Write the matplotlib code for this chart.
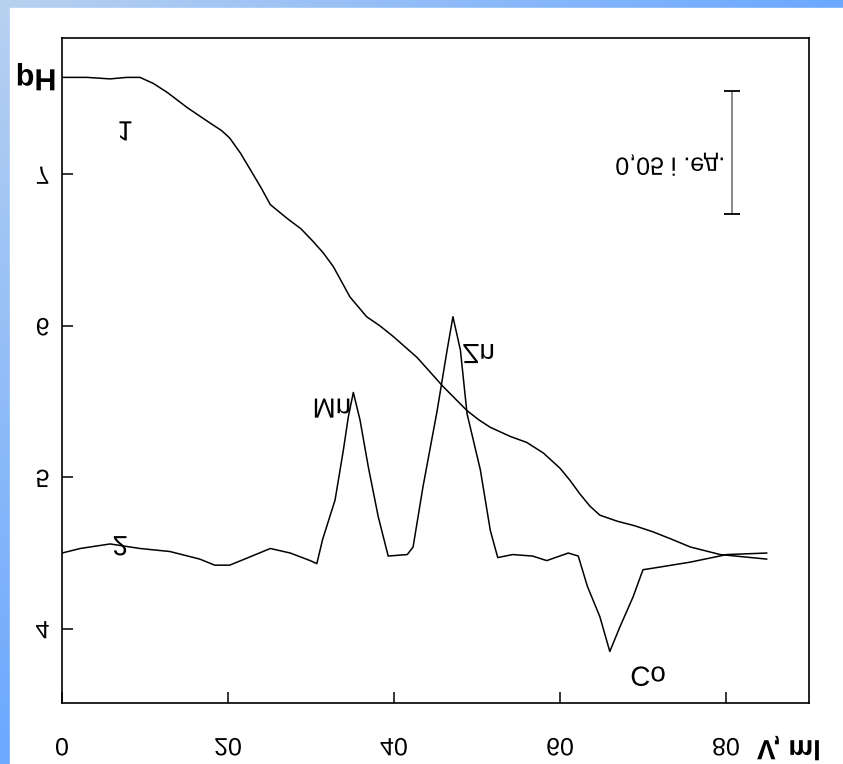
import numpy as np
import matplotlib
matplotlib.use("Agg")
import matplotlib.pyplot as plt
from matplotlib import patheffects
from matplotlib.patches import Rectangle
from matplotlib.transforms import Affine2D

plt.rcParams["font.family"] = ["Liberation Sans", "DejaVu Sans"]

# titration curve (1): volume, ml -> pH
v1 = [0.0, 3.0, 5.8, 7.8, 9.4, 11.0, 12.7, 15.1, 17.8, 19.2, 20.2, 21.5, 22.7, 24.0,
      25.1, 27.1, 28.8, 30.2, 31.5, 32.7, 33.7, 34.7, 36.7, 38.3, 39.9, 42.8, 45.9,
      48.8, 50.2, 51.6, 54.0, 56.0, 58.0, 60.0, 61.2, 62.4, 63.6, 64.8, 66.9, 69.0,
      71.2, 73.5, 75.7, 79.3, 84.9]
ph1 = [7.64, 7.64, 7.63, 7.64, 7.64, 7.60, 7.54, 7.44, 7.34, 7.29, 7.24, 7.14, 7.03,
       6.91, 6.80, 6.71, 6.64, 6.56, 6.48, 6.39, 6.29, 6.19, 6.06, 6.00, 5.93, 5.79,
       5.60, 5.44, 5.38, 5.33, 5.27, 5.23, 5.16, 5.06, 4.98, 4.89, 4.81, 4.75, 4.71,
       4.68, 4.64, 4.59, 4.54, 4.49, 4.46]

# differential curve (2), drawn on the same pH scale
v2 = [0.0, 2.2, 5.8, 9.4, 13.0, 16.6, 18.4, 20.2, 22.0, 25.1, 27.5, 29.9, 30.7,
      31.4, 32.9, 33.9, 34.5, 35.1, 35.9, 36.9, 38.1, 39.3, 41.6, 42.3, 43.5,
      45.2, 46.4, 47.1, 48.0, 48.8, 50.4, 51.6, 52.5, 54.3, 56.7, 58.4, 61.0,
      62.2, 63.3, 64.8, 66.0, 67.2, 68.8, 70.0, 71.2, 75.7, 80.1, 84.9]
ph2 = [4.50, 4.53, 4.56, 4.53, 4.51, 4.46, 4.42, 4.42, 4.46, 4.53, 4.50, 4.45, 4.43,
       4.59, 4.85, 5.18, 5.40, 5.56, 5.38, 5.07, 4.74, 4.48, 4.49, 4.54, 4.94,
       5.44, 5.84, 6.06, 5.84, 5.42, 5.05, 4.65, 4.47, 4.49, 4.48, 4.45, 4.50,
       4.48, 4.28, 4.08, 3.85, 4.01, 4.21, 4.39, 4.40, 4.44, 4.49, 4.50]

x_ticks = [0, 20, 40, 60, 80]
y_ticks = [4, 5, 6, 7]

# curve and peak labels
labels = ["1", "2", "Mn", "Zn", "Co"]
label_x = [7.6, 7.0, 32.5, 50.2, 70.6]
label_y = [7.27, 4.53, 5.44, 5.80, 3.67]

# scale bar for curve 2
bar_x = 80.7
bar_y = (6.74, 7.55)
bar_text = "0,05 і .ед."


class FlipText(patheffects.AbstractPathEffect):
    """Draw the glyph outlines mirrored top to bottom."""

    def draw_path(self, renderer, gc, tpath, affine, rgbFace=None):
        ext = tpath.get_extents()
        flip = Affine2D().scale(1, -1).translate(0, ext.y0 + ext.y1)
        renderer.draw_path(gc, tpath, flip + affine, rgbFace)


flip = [FlipText()]

W, H = 843, 764
fig = plt.figure(figsize=(W / 100, H / 100), dpi=100)

# blue frame along the top and left edges
bg = fig.add_axes([0, 0, 1, 1], zorder=-2)
gx, gy = np.meshgrid(np.linspace(0, 1, 200), np.linspace(0, 1, 200))
t = np.clip(gx + gy, 0, 1)[..., None]
c0 = np.array([0.72, 0.82, 0.94])
c1 = np.array([0.42, 0.66, 1.0])
grad = c0 * (1 - t) + c1 * t
bg.imshow(grad, extent=[0, 1, 0, 1], origin="upper", aspect="auto")
bg.add_patch(Rectangle((10 / W, 0), 1, 1 - 8 / H, color="white"))
bg.set_xlim(0, 1)
bg.set_ylim(0, 1)
bg.axis("off")

ax = fig.add_axes([62 / W, 1 - 703 / H, (809 - 62) / W, (703 - 38) / H])
ax.set_facecolor("none")
ax.plot(v1, ph1, color="black", lw=1.1)
ax.plot(v2, ph2, color="black", lw=1.1)

ax.set_xlim(0, 90)
ax.set_ylim(3.51, 7.90)
for s in ax.spines.values():
    s.set_linewidth(1.2)

ax.set_xticks(x_ticks, [str(v) for v in x_ticks])
ax.set_yticks(y_ticks, [str(v) for v in y_ticks])
ax.tick_params(axis="x", direction="in", length=8, width=1.1, pad=24, labelsize=18)
ax.tick_params(axis="y", direction="in", length=8, width=1.1, pad=9, labelsize=18)
for lbl in ax.get_xticklabels() + ax.get_yticklabels():
    lbl.set_path_effects(flip)

for s, x, y in zip(labels, label_x, label_y):
    ax.text(x, y, s, fontsize=20, ha="center", va="center", path_effects=flip)

# scale bar
ax.vlines(bar_x, bar_y[0], bar_y[1], color="#808080", lw=1.3)
ax.hlines(list(bar_y), bar_x - 1.0, bar_x + 1.0, color="black", lw=1.3)
ax.text(bar_x - 0.8, 7.07, bar_text, fontsize=18, ha="right", va="center",
        path_effects=flip)

fig.text(36 / W, 1 - 76 / H, "pH", fontsize=22, fontweight="bold",
         ha="center", va="center", path_effects=flip)
fig.text(757 / W, 1 - 762 / H, "V, ml", fontsize=20, fontweight="bold",
         ha="left", va="bottom", path_effects=flip)

fig.savefig("out.png", dpi=100)
